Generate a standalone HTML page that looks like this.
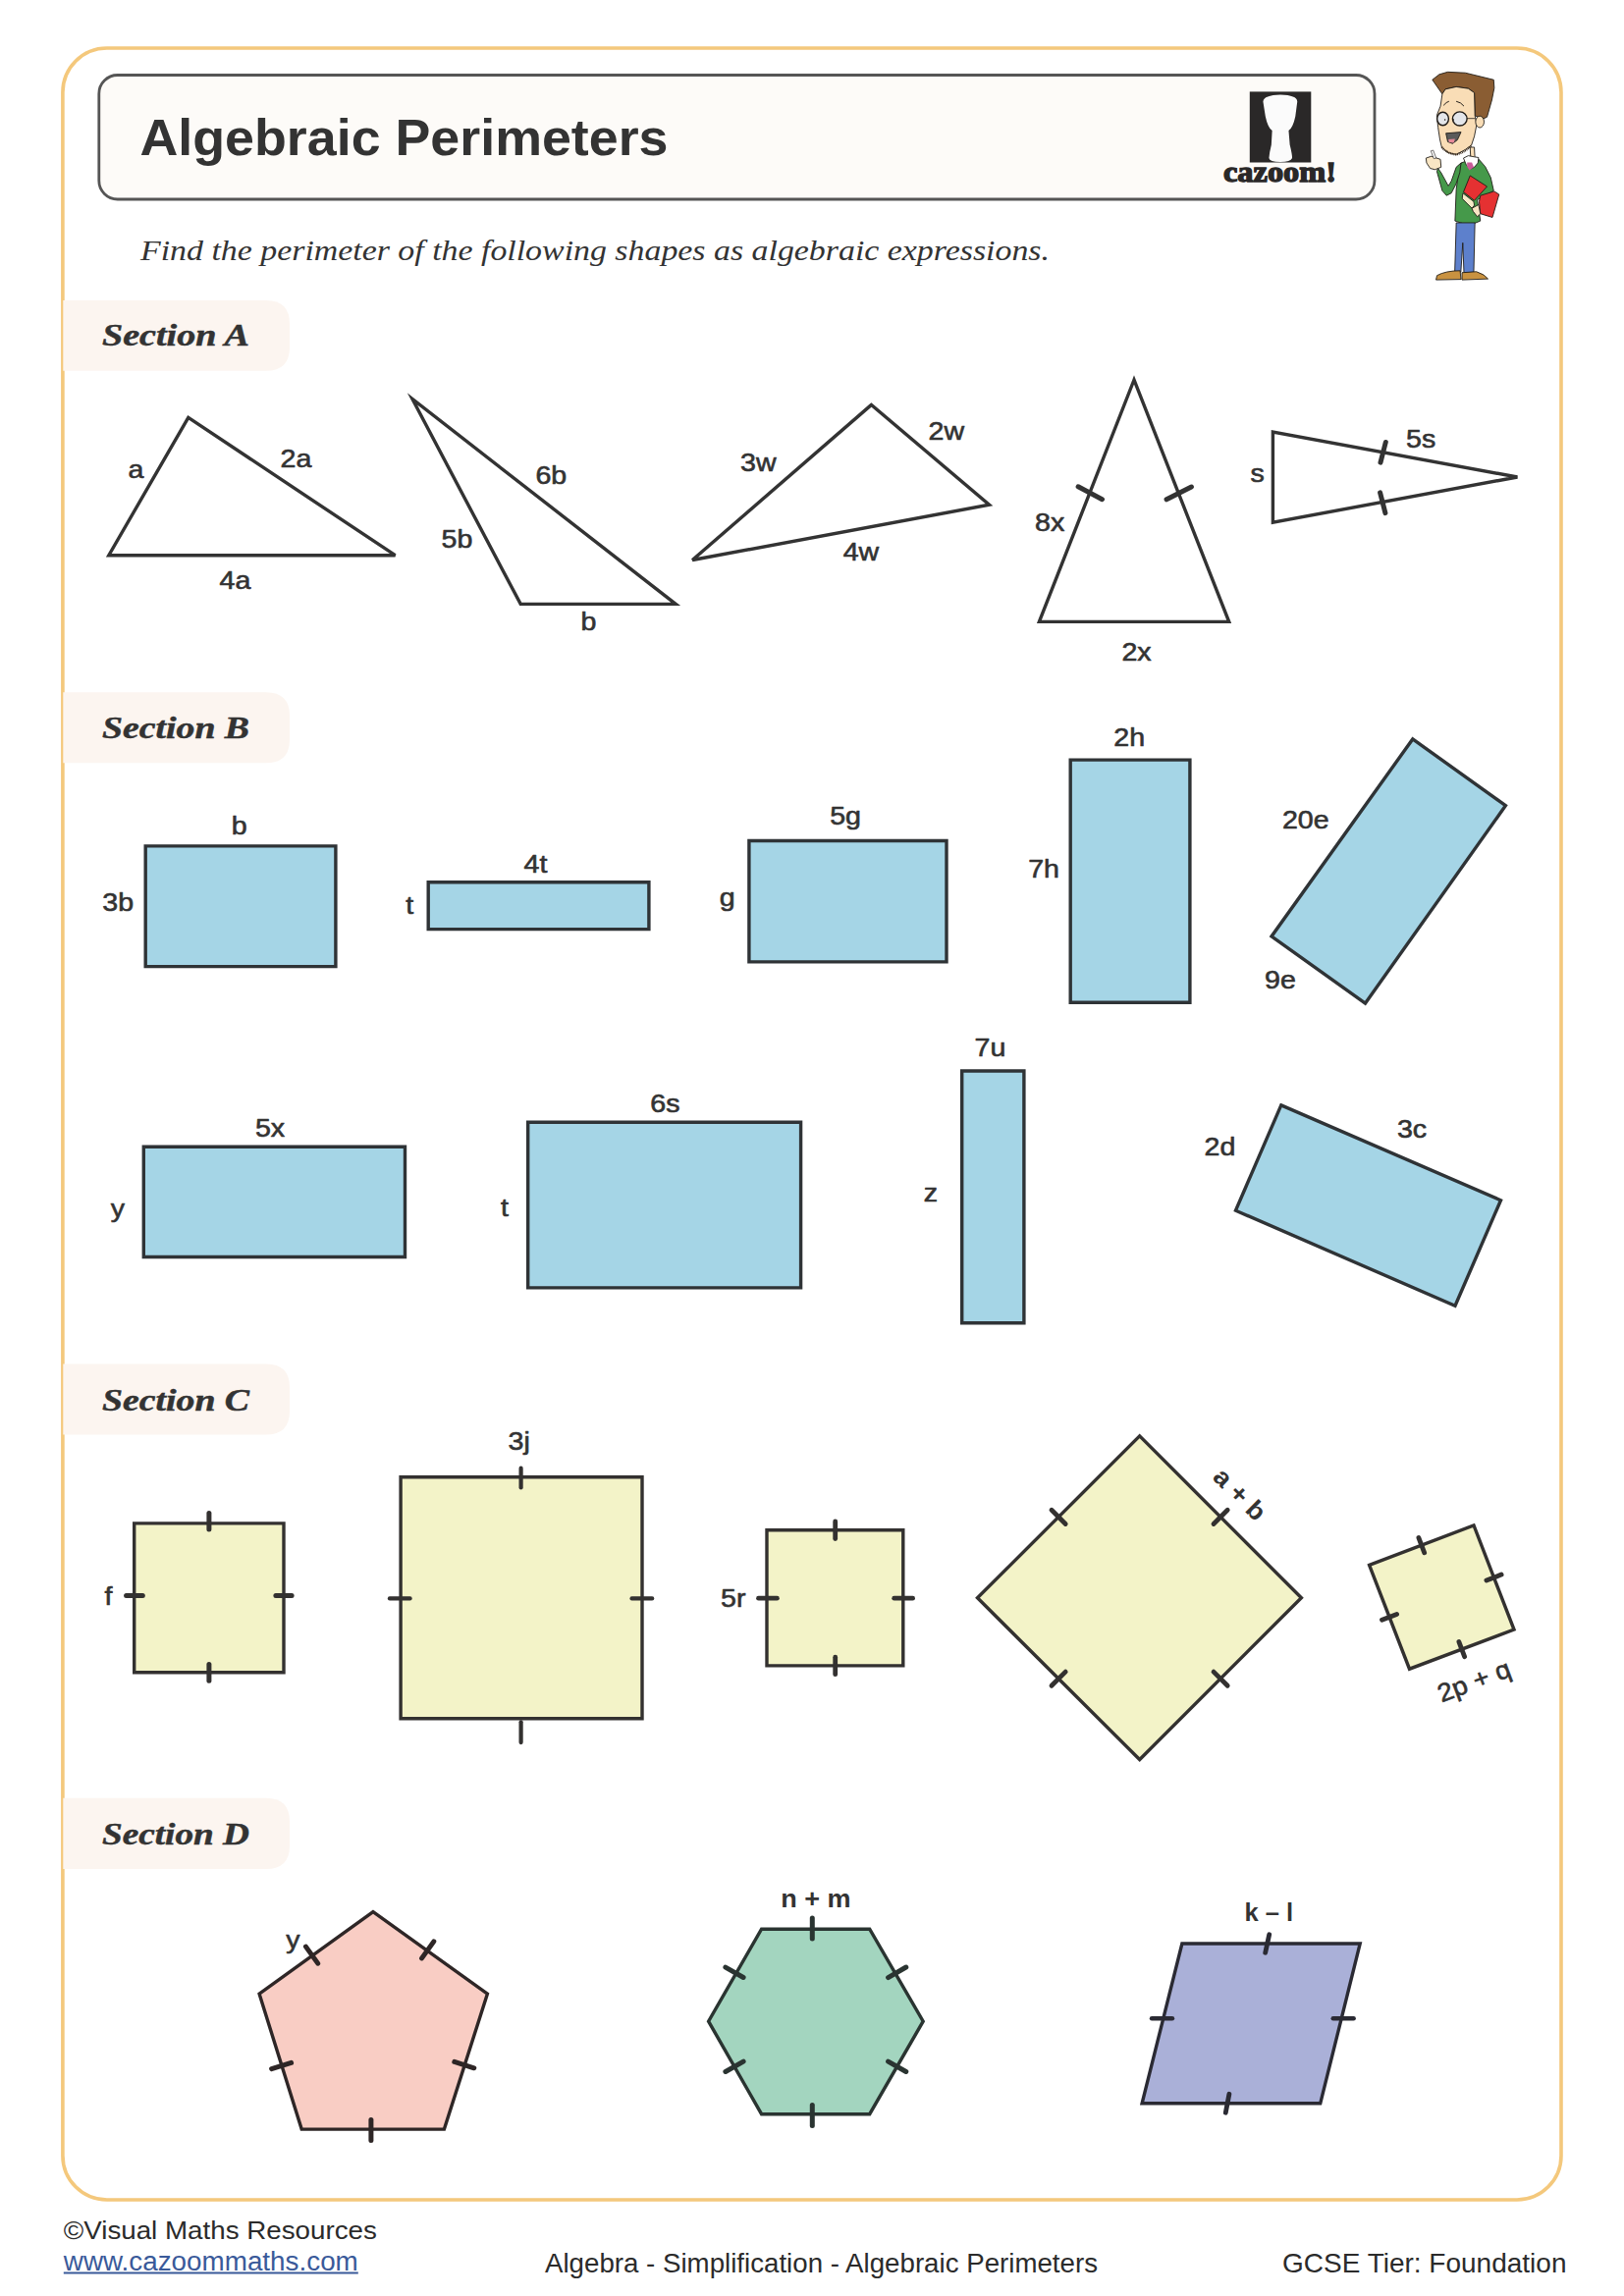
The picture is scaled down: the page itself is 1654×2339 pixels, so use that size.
<!DOCTYPE html>
<html><head><meta charset="utf-8"><title>Algebraic Perimeters</title>
<style>html,body{margin:0;padding:0;background:#ffffff;}svg{display:block;}</style></head>
<body><svg width="1654" height="2339" viewBox="0 0 1654 2339">
<rect width="1654" height="2339" fill="#ffffff"/>
<rect x="63.9" y="49" width="1526.1" height="2192" rx="45" ry="45" fill="none" stroke="#f4c87c" stroke-width="3.6"/>
<rect x="100.8" y="76.5" width="1299.2" height="126.5" rx="19" ry="19" fill="#fdfbf8" stroke="#555555" stroke-width="2.8"/>
<text x="142.5" y="157.9" font-family="Liberation Sans, sans-serif" font-weight="bold" font-size="52" fill="#333333" textLength="538" lengthAdjust="spacingAndGlyphs">Algebraic Perimeters</text>
<rect x="1272.8" y="93.4" width="62.5" height="72.1" fill="#2a2828"/>
<g transform="translate(1240,85) scale(0.08006)"><path d="M580,230 Q590,150 800,145 Q1010,150 1015,230 L990,420 Q960,560 905,600 L920,780 Q950,900 950,950 Q930,1000 800,1000 Q660,1000 655,950 Q660,880 685,780 L695,600 Q640,560 610,420 Z" fill="#fbfbfb"/></g>
<text x="1246" y="184.8" font-family="Liberation Serif, serif" font-weight="bold" font-size="29" fill="#2a2828" stroke="#2a2828" stroke-width="1.3" textLength="115" lengthAdjust="spacingAndGlyphs">cazoom!</text>
<text x="143" y="265" font-family="Liberation Serif, serif" font-style="italic" font-size="30" fill="#333333" textLength="926" lengthAdjust="spacingAndGlyphs">Find the perimeter of the following shapes as algebraic expressions.</text>
<path d="M64.3,306 L271,306 Q295,306 295,330 L295,353.7 Q295,377.7 271,377.7 L64.3,377.7 Z" fill="#fcf5f0"/>
<text x="104" y="352.4" font-family="Liberation Serif, serif" font-weight="bold" font-style="italic" font-size="32" fill="#333333" stroke="#333333" stroke-width="0.5" textLength="150" lengthAdjust="spacingAndGlyphs">Section A</text>
<path d="M64.3,705.2 L271,705.2 Q295,705.2 295,729.2 L295,753.3 Q295,777.3 271,777.3 L64.3,777.3 Z" fill="#fcf5f0"/>
<text x="104" y="751.6" font-family="Liberation Serif, serif" font-weight="bold" font-style="italic" font-size="32" fill="#333333" stroke="#333333" stroke-width="0.5" textLength="150" lengthAdjust="spacingAndGlyphs">Section B</text>
<path d="M64.3,1389.4 L271,1389.4 Q295,1389.4 295,1413.4 L295,1437.5 Q295,1461.5 271,1461.5 L64.3,1461.5 Z" fill="#fcf5f0"/>
<text x="104" y="1437.4" font-family="Liberation Serif, serif" font-weight="bold" font-style="italic" font-size="32" fill="#333333" stroke="#333333" stroke-width="0.5" textLength="150" lengthAdjust="spacingAndGlyphs">Section C</text>
<path d="M64.3,1831.8 L271,1831.8 Q295,1831.8 295,1855.8 L295,1879.9 Q295,1903.9 271,1903.9 L64.3,1903.9 Z" fill="#fcf5f0"/>
<text x="104" y="1879.4" font-family="Liberation Serif, serif" font-weight="bold" font-style="italic" font-size="32" fill="#333333" stroke="#333333" stroke-width="0.5" textLength="150" lengthAdjust="spacingAndGlyphs">Section D</text>
<polygon points="191.8,425.4 110.8,565.7 402.5,565.7" fill="none" stroke="#333333" stroke-width="3.4" stroke-linejoin="miter" stroke-miterlimit="2.5" />
<text transform="translate(138.4,487.2) scale(1.1,1)" text-anchor="middle" font-family="Liberation Sans, sans-serif" font-weight="normal" stroke="#333333" stroke-width="0.6" stroke-linejoin="round" font-size="26" fill="#333333">a</text>
<text transform="translate(301.5,475.6) scale(1.1,1)" text-anchor="middle" font-family="Liberation Sans, sans-serif" font-weight="normal" stroke="#333333" stroke-width="0.6" stroke-linejoin="round" font-size="26" fill="#333333">2a</text>
<text transform="translate(239.4,600.1) scale(1.1,1)" text-anchor="middle" font-family="Liberation Sans, sans-serif" font-weight="normal" stroke="#333333" stroke-width="0.6" stroke-linejoin="round" font-size="26" fill="#333333">4a</text>
<polygon points="420.0,406.5 530.2,615.4 688.2,615.4" fill="none" stroke="#333333" stroke-width="3.4" stroke-linejoin="miter" stroke-miterlimit="6" />
<text transform="translate(561.3,492.5) scale(1.1,1)" text-anchor="middle" font-family="Liberation Sans, sans-serif" font-weight="normal" stroke="#333333" stroke-width="0.6" stroke-linejoin="round" font-size="26" fill="#333333">6b</text>
<text transform="translate(465.4,558.1) scale(1.1,1)" text-anchor="middle" font-family="Liberation Sans, sans-serif" font-weight="normal" stroke="#333333" stroke-width="0.6" stroke-linejoin="round" font-size="26" fill="#333333">5b</text>
<text transform="translate(599.5,642.2) scale(1.1,1)" text-anchor="middle" font-family="Liberation Sans, sans-serif" font-weight="normal" stroke="#333333" stroke-width="0.6" stroke-linejoin="round" font-size="26" fill="#333333">b</text>
<polygon points="887.5,412.4 705.2,570.5 1007.5,514.2" fill="none" stroke="#333333" stroke-width="3.4" stroke-linejoin="miter" stroke-miterlimit="2.5" />
<text transform="translate(772.3,479.8) scale(1.1,1)" text-anchor="middle" font-family="Liberation Sans, sans-serif" font-weight="normal" stroke="#333333" stroke-width="0.6" stroke-linejoin="round" font-size="26" fill="#333333">3w</text>
<text transform="translate(963.8,448.3) scale(1.1,1)" text-anchor="middle" font-family="Liberation Sans, sans-serif" font-weight="normal" stroke="#333333" stroke-width="0.6" stroke-linejoin="round" font-size="26" fill="#333333">2w</text>
<text transform="translate(877.0,570.9) scale(1.1,1)" text-anchor="middle" font-family="Liberation Sans, sans-serif" font-weight="normal" stroke="#333333" stroke-width="0.6" stroke-linejoin="round" font-size="26" fill="#333333">4w</text>
<polygon points="1155.0,387.0 1058.4,633.4 1251.7,633.4" fill="none" stroke="#333333" stroke-width="3.4" stroke-linejoin="miter" stroke-miterlimit="4" />
<line x1="1098.1" y1="495.8" x2="1122.5" y2="508.7" stroke="#333333" stroke-width="5" stroke-linecap="round"/>
<line x1="1188.1" y1="508.8" x2="1213.4" y2="496.0" stroke="#333333" stroke-width="5" stroke-linecap="round"/>
<text transform="translate(1069.2,541.4) scale(1.1,1)" text-anchor="middle" font-family="Liberation Sans, sans-serif" font-weight="normal" stroke="#333333" stroke-width="0.6" stroke-linejoin="round" font-size="26" fill="#333333">8x</text>
<text transform="translate(1157.5,673.0) scale(1.1,1)" text-anchor="middle" font-family="Liberation Sans, sans-serif" font-weight="normal" stroke="#333333" stroke-width="0.6" stroke-linejoin="round" font-size="26" fill="#333333">2x</text>
<polygon points="1296.4,440.0 1296.4,532.1 1545.4,486.0" fill="none" stroke="#333333" stroke-width="3.4" stroke-linejoin="miter" stroke-miterlimit="2.5" />
<line x1="1411.3" y1="450.5" x2="1406.0" y2="471.2" stroke="#333333" stroke-width="5" stroke-linecap="round"/>
<line x1="1405.6" y1="501.8" x2="1410.9" y2="522.6" stroke="#333333" stroke-width="5" stroke-linecap="round"/>
<text transform="translate(1280.6,491.1) scale(1.1,1)" text-anchor="middle" font-family="Liberation Sans, sans-serif" font-weight="normal" stroke="#333333" stroke-width="0.6" stroke-linejoin="round" font-size="26" fill="#333333">s</text>
<text transform="translate(1447.2,456.0) scale(1.1,1)" text-anchor="middle" font-family="Liberation Sans, sans-serif" font-weight="normal" stroke="#333333" stroke-width="0.6" stroke-linejoin="round" font-size="26" fill="#333333">5s</text>
<polygon points="148.2,861.9 341.9,861.9 341.9,984.6 148.2,984.6" fill="#a5d5e6" stroke="#2f3336" stroke-width="3.4" stroke-linejoin="miter" stroke-miterlimit="2.5" />
<text transform="translate(243.6,850.3) scale(1.1,1)" text-anchor="middle" font-family="Liberation Sans, sans-serif" font-weight="normal" stroke="#333333" stroke-width="0.6" stroke-linejoin="round" font-size="26" fill="#333333">b</text>
<text transform="translate(120.2,928.4) scale(1.1,1)" text-anchor="middle" font-family="Liberation Sans, sans-serif" font-weight="normal" stroke="#333333" stroke-width="0.6" stroke-linejoin="round" font-size="26" fill="#333333">3b</text>
<polygon points="436.2,898.8 660.9,898.8 660.9,946.6 436.2,946.6" fill="#a5d5e6" stroke="#2f3336" stroke-width="3.4" stroke-linejoin="miter" stroke-miterlimit="2.5" />
<text transform="translate(545.4,889.3) scale(1.1,1)" text-anchor="middle" font-family="Liberation Sans, sans-serif" font-weight="normal" stroke="#333333" stroke-width="0.6" stroke-linejoin="round" font-size="26" fill="#333333">4t</text>
<text transform="translate(417.2,931.0) scale(1.1,1)" text-anchor="middle" font-family="Liberation Sans, sans-serif" font-weight="normal" stroke="#333333" stroke-width="0.6" stroke-linejoin="round" font-size="26" fill="#333333">t</text>
<polygon points="762.9,856.5 964.0,856.5 964.0,979.9 762.9,979.9" fill="#a5d5e6" stroke="#2f3336" stroke-width="3.4" stroke-linejoin="miter" stroke-miterlimit="2.5" />
<text transform="translate(861.1,839.9) scale(1.1,1)" text-anchor="middle" font-family="Liberation Sans, sans-serif" font-weight="normal" stroke="#333333" stroke-width="0.6" stroke-linejoin="round" font-size="26" fill="#333333">5g</text>
<text transform="translate(740.7,923.0) scale(1.1,1)" text-anchor="middle" font-family="Liberation Sans, sans-serif" font-weight="normal" stroke="#333333" stroke-width="0.6" stroke-linejoin="round" font-size="26" fill="#333333">g</text>
<polygon points="1090.2,774.1 1211.9,774.1 1211.9,1021.3 1090.2,1021.3" fill="#a5d5e6" stroke="#2f3336" stroke-width="3.4" stroke-linejoin="miter" stroke-miterlimit="2.5" />
<text transform="translate(1150.2,759.7) scale(1.1,1)" text-anchor="middle" font-family="Liberation Sans, sans-serif" font-weight="normal" stroke="#333333" stroke-width="0.6" stroke-linejoin="round" font-size="26" fill="#333333">2h</text>
<text transform="translate(1063.1,894.2) scale(1.1,1)" text-anchor="middle" font-family="Liberation Sans, sans-serif" font-weight="normal" stroke="#333333" stroke-width="0.6" stroke-linejoin="round" font-size="26" fill="#333333">7h</text>
<polygon points="1438.8,752.9 1533.4,820.7 1390.5,1022.1 1295.0,953.9" fill="#a5d5e6" stroke="#2f3336" stroke-width="3.4" stroke-linejoin="miter" stroke-miterlimit="2.5" />
<text transform="translate(1329.8,843.9) scale(1.1,1)" text-anchor="middle" font-family="Liberation Sans, sans-serif" font-weight="normal" stroke="#333333" stroke-width="0.6" stroke-linejoin="round" font-size="26" fill="#333333">20e</text>
<text transform="translate(1304.0,1007.0) scale(1.1,1)" text-anchor="middle" font-family="Liberation Sans, sans-serif" font-weight="normal" stroke="#333333" stroke-width="0.6" stroke-linejoin="round" font-size="26" fill="#333333">9e</text>
<polygon points="146.3,1168.2 412.5,1168.2 412.5,1280.5 146.3,1280.5" fill="#a5d5e6" stroke="#2f3336" stroke-width="3.4" stroke-linejoin="miter" stroke-miterlimit="2.5" />
<text transform="translate(275.0,1158.2) scale(1.1,1)" text-anchor="middle" font-family="Liberation Sans, sans-serif" font-weight="normal" stroke="#333333" stroke-width="0.6" stroke-linejoin="round" font-size="26" fill="#333333">5x</text>
<text transform="translate(119.8,1239.9) scale(1.1,1)" text-anchor="middle" font-family="Liberation Sans, sans-serif" font-weight="normal" stroke="#333333" stroke-width="0.6" stroke-linejoin="round" font-size="26" fill="#333333">y</text>
<polygon points="537.7,1143.3 815.6,1143.3 815.6,1311.9 537.7,1311.9" fill="#a5d5e6" stroke="#2f3336" stroke-width="3.4" stroke-linejoin="miter" stroke-miterlimit="2.5" />
<text transform="translate(677.4,1133.1) scale(1.1,1)" text-anchor="middle" font-family="Liberation Sans, sans-serif" font-weight="normal" stroke="#333333" stroke-width="0.6" stroke-linejoin="round" font-size="26" fill="#333333">6s</text>
<text transform="translate(514.0,1238.6) scale(1.1,1)" text-anchor="middle" font-family="Liberation Sans, sans-serif" font-weight="normal" stroke="#333333" stroke-width="0.6" stroke-linejoin="round" font-size="26" fill="#333333">t</text>
<polygon points="979.7,1091.0 1042.9,1091.0 1042.9,1347.8 979.7,1347.8" fill="#a5d5e6" stroke="#2f3336" stroke-width="3.4" stroke-linejoin="miter" stroke-miterlimit="2.5" />
<text transform="translate(1008.4,1075.8) scale(1.1,1)" text-anchor="middle" font-family="Liberation Sans, sans-serif" font-weight="normal" stroke="#333333" stroke-width="0.6" stroke-linejoin="round" font-size="26" fill="#333333">7u</text>
<text transform="translate(948.0,1224.3) scale(1.1,1)" text-anchor="middle" font-family="Liberation Sans, sans-serif" font-weight="normal" stroke="#333333" stroke-width="0.6" stroke-linejoin="round" font-size="26" fill="#333333">z</text>
<polygon points="1304.8,1125.9 1528.5,1222.8 1482.0,1330.2 1258.5,1233.2" fill="#a5d5e6" stroke="#2f3336" stroke-width="3.4" stroke-linejoin="miter" stroke-miterlimit="2.5" />
<text transform="translate(1242.5,1177.2) scale(1.1,1)" text-anchor="middle" font-family="Liberation Sans, sans-serif" font-weight="normal" stroke="#333333" stroke-width="0.6" stroke-linejoin="round" font-size="26" fill="#333333">2d</text>
<text transform="translate(1438.0,1158.6) scale(1.1,1)" text-anchor="middle" font-family="Liberation Sans, sans-serif" font-weight="normal" stroke="#333333" stroke-width="0.6" stroke-linejoin="round" font-size="26" fill="#333333">3c</text>
<polygon points="136.7,1551.9 289.0,1551.9 289.0,1703.8 136.7,1703.8" fill="#f3f3c8" stroke="#333130" stroke-width="3.4" stroke-linejoin="miter" stroke-miterlimit="2.5" />
<line x1="212.9" y1="1541.6" x2="212.9" y2="1557.9" stroke="#333130" stroke-width="5" stroke-linecap="round"/>
<line x1="212.9" y1="1695.5" x2="212.9" y2="1712.2" stroke="#333130" stroke-width="5" stroke-linecap="round"/>
<line x1="128.6" y1="1625.5" x2="145.3" y2="1625.5" stroke="#333130" stroke-width="5" stroke-linecap="round"/>
<line x1="280.9" y1="1625.5" x2="297.1" y2="1625.5" stroke="#333130" stroke-width="5" stroke-linecap="round"/>
<text transform="translate(110.5,1634.7) scale(1.1,1)" text-anchor="middle" font-family="Liberation Sans, sans-serif" font-weight="normal" stroke="#333333" stroke-width="0.6" stroke-linejoin="round" font-size="26" fill="#333333">f</text>
<polygon points="408.1,1504.7 654.0,1504.7 654.0,1750.7 408.1,1750.7" fill="#f3f3c8" stroke="#333130" stroke-width="3.4" stroke-linejoin="miter" stroke-miterlimit="2.5" />
<line x1="530.6" y1="1495.7" x2="530.6" y2="1515.5" stroke="#333130" stroke-width="4.2" stroke-linecap="round"/>
<line x1="530.6" y1="1754.3" x2="530.6" y2="1775.1" stroke="#333130" stroke-width="4.2" stroke-linecap="round"/>
<line x1="396.9" y1="1628.4" x2="417.6" y2="1628.4" stroke="#333130" stroke-width="4.2" stroke-linecap="round"/>
<line x1="643.5" y1="1628.4" x2="664.2" y2="1628.4" stroke="#333130" stroke-width="4.2" stroke-linecap="round"/>
<text transform="translate(528.7,1476.9) scale(1.1,1)" text-anchor="middle" font-family="Liberation Sans, sans-serif" font-weight="normal" stroke="#333333" stroke-width="0.6" stroke-linejoin="round" font-size="26" fill="#333333">3j</text>
<polygon points="781.0,1558.7 919.8,1558.7 919.8,1696.9 781.0,1696.9" fill="#f3f3c8" stroke="#333130" stroke-width="3.4" stroke-linejoin="miter" stroke-miterlimit="2.5" />
<line x1="850.7" y1="1550.0" x2="850.7" y2="1567.6" stroke="#333130" stroke-width="4.8" stroke-linecap="round"/>
<line x1="850.7" y1="1688.2" x2="850.7" y2="1705.7" stroke="#333130" stroke-width="4.8" stroke-linecap="round"/>
<line x1="772.5" y1="1628.2" x2="791.4" y2="1628.2" stroke="#333130" stroke-width="4.8" stroke-linecap="round"/>
<line x1="910.7" y1="1628.2" x2="929.6" y2="1628.2" stroke="#333130" stroke-width="4.8" stroke-linecap="round"/>
<text transform="translate(746.7,1637.0) scale(1.1,1)" text-anchor="middle" font-family="Liberation Sans, sans-serif" font-weight="normal" stroke="#333333" stroke-width="0.6" stroke-linejoin="round" font-size="26" fill="#333333">5r</text>
<polygon points="1160.7,1462.9 1325.4,1627.8 1160.7,1792.5 995.5,1627.8" fill="#f3f3c8" stroke="#333130" stroke-width="3.4" stroke-linejoin="miter" stroke-miterlimit="2.5" />
<line x1="1071.0" y1="1538.3" x2="1085.2" y2="1552.5" stroke="#333130" stroke-width="4.8" stroke-linecap="round"/>
<line x1="1236.0" y1="1552.5" x2="1250.2" y2="1538.3" stroke="#333130" stroke-width="4.8" stroke-linecap="round"/>
<line x1="1071.0" y1="1717.3" x2="1085.2" y2="1703.1" stroke="#333130" stroke-width="4.8" stroke-linecap="round"/>
<line x1="1236.0" y1="1703.1" x2="1250.2" y2="1717.3" stroke="#333130" stroke-width="4.8" stroke-linecap="round"/>
<text transform="translate(1263.0,1521.8) rotate(45) scale(1.06,1)" x="0" y="9.4" text-anchor="middle" font-family="Liberation Sans, sans-serif" font-weight="bold" font-size="26" fill="#333333">a + b</text>
<polygon points="1394.6,1594.4 1501.0,1554.0 1542.0,1660.1 1435.5,1700.2" fill="#f3f3c8" stroke="#333130" stroke-width="3.4" stroke-linejoin="miter" stroke-miterlimit="2.5" />
<line x1="1444.9" y1="1566.6" x2="1450.7" y2="1581.8" stroke="#333130" stroke-width="4.8" stroke-linecap="round"/>
<line x1="1529.1" y1="1604.1" x2="1513.9" y2="1610.0" stroke="#333130" stroke-width="4.8" stroke-linecap="round"/>
<line x1="1491.6" y1="1687.7" x2="1485.9" y2="1672.6" stroke="#333130" stroke-width="4.8" stroke-linecap="round"/>
<line x1="1407.5" y1="1650.2" x2="1422.6" y2="1644.4" stroke="#333130" stroke-width="4.8" stroke-linecap="round"/>
<text transform="translate(1501.0,1712.0) rotate(-20.8) scale(1.06,1)" x="0" y="9.4" text-anchor="middle" font-family="Liberation Sans, sans-serif" font-weight="normal" stroke="#333333" stroke-width="0.6" stroke-linejoin="round" font-size="26" fill="#333333">2p + q</text>
<polygon points="380.0,1947.6 496.4,2031.2 452.4,2169.1 307.2,2169.1 264.1,2031.2" fill="#f9cdc4" stroke="#2e2626" stroke-width="3.4" stroke-linejoin="miter" stroke-miterlimit="2.5" />
<line x1="441.8" y1="1977.9" x2="429.6" y2="1994.9" stroke="#2e2626" stroke-width="5" stroke-linecap="round"/>
<line x1="482.8" y1="2106.8" x2="462.8" y2="2100.4" stroke="#2e2626" stroke-width="5" stroke-linecap="round"/>
<line x1="377.9" y1="2180.5" x2="377.9" y2="2159.5" stroke="#2e2626" stroke-width="5" stroke-linecap="round"/>
<line x1="276.6" y1="2107.6" x2="296.6" y2="2101.4" stroke="#2e2626" stroke-width="5" stroke-linecap="round"/>
<line x1="311.5" y1="1983.1" x2="323.7" y2="2000.1" stroke="#2e2626" stroke-width="5" stroke-linecap="round"/>
<text transform="translate(298.3,1984.5) scale(1.1,1)" text-anchor="middle" font-family="Liberation Sans, sans-serif" font-weight="normal" stroke="#333333" stroke-width="0.6" stroke-linejoin="round" font-size="26" fill="#333333">y</text>
<polygon points="775.6,1965.2 885.7,1965.2 940.2,2059.2 885.7,2153.7 775.6,2153.7 721.6,2059.2" fill="#a3d5bf" stroke="#2a3431" stroke-width="3.4" stroke-linejoin="miter" stroke-miterlimit="2.5" />
<line x1="827.3" y1="1953.9" x2="827.3" y2="1974.9" stroke="#2a3431" stroke-width="5" stroke-linecap="round"/>
<line x1="922.8" y1="2004.0" x2="904.6" y2="2014.6" stroke="#2a3431" stroke-width="5" stroke-linecap="round"/>
<line x1="922.8" y1="2110.5" x2="904.6" y2="2100.1" stroke="#2a3431" stroke-width="5" stroke-linecap="round"/>
<line x1="827.3" y1="2165.5" x2="827.3" y2="2144.5" stroke="#2a3431" stroke-width="5" stroke-linecap="round"/>
<line x1="738.9" y1="2110.5" x2="757.1" y2="2100.1" stroke="#2a3431" stroke-width="5" stroke-linecap="round"/>
<line x1="738.9" y1="2004.1" x2="757.1" y2="2014.5" stroke="#2a3431" stroke-width="5" stroke-linecap="round"/>
<text transform="translate(830.9,1942.8) scale(1.04,1)" text-anchor="middle" font-family="Liberation Sans, sans-serif" font-weight="bold" font-size="26" fill="#333333">n + m</text>
<polygon points="1203.9,1980.0 1385.2,1980.0 1344.7,2142.8 1163.1,2142.8" fill="#aab0d8" stroke="#2a2a33" stroke-width="3.4" stroke-linejoin="miter" stroke-miterlimit="2.5" />
<line x1="1292.7" y1="1970.8" x2="1288.7" y2="1989.2" stroke="#2a2a33" stroke-width="4.8" stroke-linecap="round"/>
<line x1="1251.9" y1="2133.3" x2="1248.3" y2="2152.2" stroke="#2a2a33" stroke-width="4.8" stroke-linecap="round"/>
<line x1="1173.1" y1="2056.2" x2="1193.9" y2="2056.2" stroke="#2a2a33" stroke-width="4.6" stroke-linecap="round"/>
<line x1="1357.8" y1="2056.2" x2="1378.6" y2="2056.2" stroke="#2a2a33" stroke-width="4.6" stroke-linecap="round"/>
<text transform="translate(1292.2,1956.9) scale(1.0,1)" text-anchor="middle" font-family="Liberation Sans, sans-serif" font-weight="bold" font-size="25.5" fill="#333333">k – l</text>
<text x="64.8" y="2280.6" font-family="Liberation Sans, sans-serif" font-size="26.5" fill="#2b2b2b" textLength="319" lengthAdjust="spacingAndGlyphs">©Visual Maths Resources</text>
<text x="64.8" y="2312.7" font-family="Liberation Sans, sans-serif" font-size="27" fill="#3a5a9a" textLength="300" lengthAdjust="spacingAndGlyphs">www.cazoommaths.com</text>
<rect x="64.8" y="2314.5" width="300" height="2" fill="#3a5a9a"/>
<text x="555" y="2314.9" font-family="Liberation Sans, sans-serif" font-size="27.3" fill="#2b2b2b" textLength="563" lengthAdjust="spacingAndGlyphs">Algebra - Simplification - Algebraic Perimeters</text>
<text x="1306" y="2314.9" font-family="Liberation Sans, sans-serif" font-size="27.3" fill="#2b2b2b" textLength="289.5" lengthAdjust="spacingAndGlyphs">GCSE Tier: Foundation</text>
<g transform="translate(1440,65) scale(0.098039)" stroke="#1e1a16" stroke-width="9" stroke-linejoin="round">
<path d="M192,166 L264,110 L352,85 L534,94 L829,166 L835,251 L810,377 L760,553 L722,571 L634,540 L628,301 L565,257 L440,239 L327,264 L295,314 Z" fill="#8a5d33"/>
<path d="M295,314 L327,264 L440,239 L565,257 L628,301 L634,540 L653,628 L628,754 L597,848 L534,892 L440,942 L352,923 L289,867 L270,785 L251,659 L239,534 L276,440 Z" fill="#f9ddb6"/>
<ellipse cx="685" cy="603" rx="44" ry="60" fill="#f9ddb6"/>
<path d="M584,867 L628,867 L634,985 L590,985 Z" fill="#f9ddb6"/>
<path d="M289,867 Q360,940 440,942 Q534,920 597,848" fill="none" stroke="#3a2a1a" stroke-width="22" stroke-dasharray="10,8"/>
<path d="M308,432 Q340,395 365,390 M440,390 Q490,400 520,440" fill="none" stroke-width="10"/>
<ellipse cx="301" cy="571" rx="60" ry="69" fill="#e4e6ea" stroke-width="14"/>
<ellipse cx="477" cy="571" rx="75" ry="72" fill="#e4e6ea" stroke-width="14"/>
<path d="M553,568 L634,568" fill="none" stroke-width="8"/>
<circle cx="323" cy="581" r="8" fill="#1e1a16" stroke="none"/>
<circle cx="411" cy="581" r="8" fill="#1e1a16" stroke="none"/>
<path d="M333,722 L490,710 L452,791 L402,829 L352,810 Z" fill="#5a5a5a"/>
<path d="M358,785 L427,780 L415,822 L365,815 Z" fill="#e68a98" stroke="none"/>
<path d="M490,1030 L546,1011 L578,1087 L634,1068 L675,993 L741,1068 L798,1181 L829,1319 L659,1413 L691,1633 L628,1658 L515,1661 L427,1633 L440,1307 L465,1118 Z" fill="#45994a"/>
<path d="M490,1030 L440,1074 L389,1219 L358,1269 L283,1131 L251,1087 L239,1118 L295,1319 L339,1369 L389,1344 L440,1244 L477,1131 Z" fill="#45994a"/>
<path d="M515,980 L565,955 L628,967 L672,974 L666,1030 L628,1074 L584,1093 L546,1055 Z" fill="#ffffff"/>
<path d="M553,1024 L603,1024 L622,1074 L578,1106 L553,1068 Z" fill="#c95b98" stroke="none"/>
<path d="M126,980 L182,961 L276,993 L283,1074 L220,1099 L170,1087 L132,1030 Z" fill="#f9e6c4"/>
<path d="M176,905 L201,898 L232,980 L207,986 Z" fill="#f6f6f6" stroke-width="6"/>
<path d="M584,1162 L760,1275 L628,1420 L515,1332 Z" fill="#e53132"/>
<path d="M691,1369 L835,1325 L885,1357 L816,1596 L691,1558 L678,1432 Z" fill="#e53132"/>
<path d="M509,1344 L622,1432 L628,1470 L603,1501 L502,1401 Z" fill="#f6ecc8"/>
<path d="M603,1501 L672,1464 L691,1558 L659,1589 L615,1533 Z" fill="#f9e6c4"/>
<path d="M440,1652 L634,1652 L622,2165 L520,2170 L508,1860 L488,2165 L425,2155 Z" fill="#5d80cc"/>
<path d="M240,2200 Q330,2150 480,2150 L490,2240 L230,2245 Z" fill="#c99240"/>
<path d="M500,2170 L650,2160 Q740,2190 770,2235 L500,2245 Z" fill="#c99240"/>
</g>

</svg></body></html>
